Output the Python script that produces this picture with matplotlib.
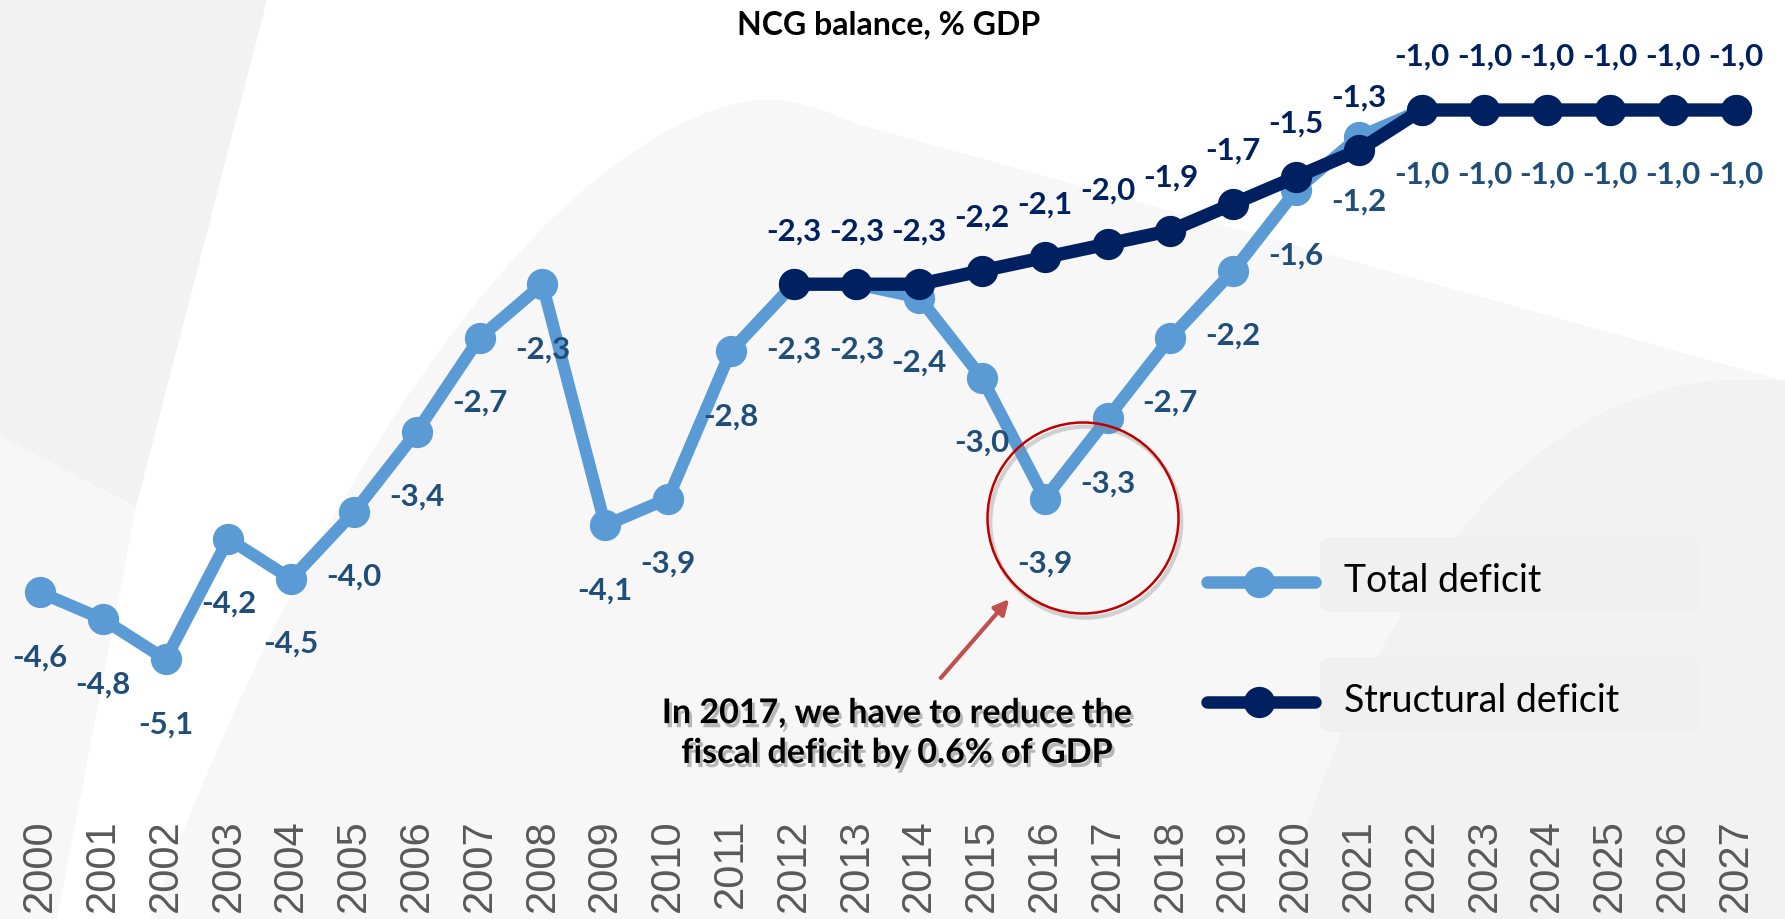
import matplotlib.pyplot as plt
import matplotlib.patheffects as pe
from matplotlib.path import Path
from matplotlib.patches import PathPatch, Polygon, Ellipse, FancyArrowPatch, FancyBboxPatch
from matplotlib.lines import Line2D

# NCG balance, % of GDP
years = list(range(2000, 2028))
total_deficit = [-4.6, -4.8, -5.1, -4.2, -4.5, -4.0, -3.4, -2.7, -2.3, -4.1,
                 -3.9, -2.8, -2.3, -2.3, -2.4, -3.0, -3.9, -3.3, -2.7, -2.2,
                 -1.6, -1.2, -1.0, -1.0, -1.0, -1.0, -1.0, -1.0]
struct_years = list(range(2012, 2028))
structural_deficit = [-2.3, -2.3, -2.3, -2.2, -2.1, -2.0, -1.9, -1.7, -1.5, -1.3,
                      -1.0, -1.0, -1.0, -1.0, -1.0, -1.0]

LIGHT = '#5B9BD5'
DARK = '#002060'
LABEL_LIGHT = '#1F4E79'
W, H = 1785, 919


def fig_xy(x, y):
    # pixel position (origin top-left) -> figure fraction
    return (x / W, 1 - y / H)


fig = plt.figure(figsize=(W / 100, H / 100), dpi=100)
fig.patch.set_facecolor('white')

# --- background shapes ---
bg = [
    Polygon([fig_xy(0, 0), fig_xy(267, 0), fig_xy(136, 507), fig_xy(0, 436)],
            closed=True, transform=fig.transFigure, fc='#F2F2F2', ec='none', zorder=-10),
    Polygon([fig_xy(0, 436), fig_xy(136, 507), fig_xy(57, 919), fig_xy(0, 919)],
            closed=True, transform=fig.transFigure, fc='#F7F7F7', ec='none', zorder=-10),
]
wave = Path([fig_xy(150, 919), fig_xy(280, 560), fig_xy(500, 180), fig_xy(720, 108),
             fig_xy(770, 92), fig_xy(800, 100), fig_xy(860, 125),
             fig_xy(1785, 381), fig_xy(1785, 919), fig_xy(150, 919)],
            [Path.MOVETO, Path.CURVE4, Path.CURVE4, Path.CURVE4,
             Path.CURVE4, Path.CURVE4, Path.CURVE4,
             Path.LINETO, Path.LINETO, Path.CLOSEPOLY])
bg.append(PathPatch(wave, transform=fig.transFigure, fc='#F7F7F7', ec='none', zorder=-9))
corner = Path([fig_xy(1280, 919), fig_xy(1340, 680), fig_xy(1480, 400), fig_xy(1720, 380),
               fig_xy(1785, 380), fig_xy(1785, 919), fig_xy(1280, 919)],
              [Path.MOVETO, Path.CURVE4, Path.CURVE4, Path.CURVE4,
               Path.LINETO, Path.LINETO, Path.CLOSEPOLY])
bg.append(PathPatch(corner, transform=fig.transFigure, fc='#F2F2F2', ec='none', zorder=-8))
for p in bg:
    fig.add_artist(p)

# --- main axes ---
ax = fig.add_axes([0, 107 / H, 1, 812 / H])
ax.set_facecolor('none')
ax.set_xlim(1999.363, 2027.787)
ax.set_ylim(-6.239, -0.179)
for s in ax.spines.values():
    s.set_visible(False)
ax.set_yticks([])
ax.set_xticks(years)
ax.set_xticklabels([str(y) for y in years], rotation=90, fontsize=30,
                   family='Liberation Sans', color='#595959')
ax.tick_params(axis='x', length=0, pad=5)

ax.plot(years, total_deficit, color=LIGHT, lw=8.8, marker='o', ms=21.5,
        solid_joinstyle='round', solid_capstyle='round', zorder=3)
ax.plot(struct_years, structural_deficit, color=DARK, lw=9.6, marker='o', ms=21.5,
        solid_joinstyle='round', solid_capstyle='round', zorder=4)


def fmt(v):
    return f'{v:.1f}'.replace('.', ',')


for x, v in zip(years, total_deficit):
    ax.annotate(fmt(v), (x, v), xytext=(0, -74), textcoords='offset pixels',
                ha='center', va='baseline', fontsize=22.5, fontweight='bold',
                family='Lato', color=LABEL_LIGHT, zorder=5)
for x, v in zip(struct_years, structural_deficit):
    ax.annotate(fmt(v), (x, v), xytext=(0, 44), textcoords='offset pixels',
                ha='center', va='baseline', fontsize=22.5, fontweight='bold',
                family='Lato', color=DARK, zorder=5)

# title
fig.text(889 / W, 1 - 25 / H, 'NCG balance, % GDP', ha='center', va='center',
         fontsize=23, fontweight='bold', family='Lato', color='black')

# --- legend ---
for (ytop, ybot), label, col in [((537, 612), 'Total deficit', LIGHT),
                                 ((657, 732), 'Structural deficit', DARK)]:
    x0, y0 = fig_xy(1320, ybot)
    x1, y1 = fig_xy(1700, ytop)
    fig.add_artist(FancyBboxPatch((x0, y0), x1 - x0, y1 - y0,
                                  boxstyle='round,pad=0,rounding_size=0.01',
                                  transform=fig.transFigure, fc='#F0F0F0', ec='none',
                                  zorder=-5))
    yc = (ytop + ybot) / 2 + 7
    fig.add_artist(Line2D([1207 / W, 1259 / W, 1315 / W], [1 - yc / H] * 3,
                          transform=fig.transFigure, color=col, lw=9,
                          solid_capstyle='round', marker='o', ms=21.5,
                          markevery=[1], zorder=6))
    fig.text(1344 / W, 1 - yc / H, label, ha='left', va='center', fontsize=27,
             family='Lato', color='black')

# --- callout for 2016/2017 ---
circ = Ellipse(fig_xy(1083, 518), 191 / W, 191 / H, transform=fig.transFigure,
               fill=False, ec='#C00000', lw=1.8, zorder=7,
               path_effects=[pe.SimpleLineShadow(offset=(2, -3), shadow_color='#888888',
                                                 alpha=0.35, linewidth=3),
                             pe.Normal()])
fig.add_artist(circ)
fig.add_artist(FancyArrowPatch(fig_xy(939, 680), fig_xy(1011, 597), transform=fig.transFigure,
                               arrowstyle='-|>', mutation_scale=22, lw=3,
                               color='#C0504D', zorder=7))
fig.text(897 / W, 1 - 733 / H, 'In 2017, we have to reduce the\nfiscal deficit by 0.6% of GDP',
         ha='center', va='center', fontsize=24.5, fontweight='bold', family='Lato',
         color='black', linespacing=1.3, zorder=7,
         path_effects=[pe.SimplePatchShadow(offset=(2, -3), shadow_rgbFace='#777777', alpha=0.5),
                       pe.Normal()])

fig.savefig('out.png', dpi=100, facecolor='white')
